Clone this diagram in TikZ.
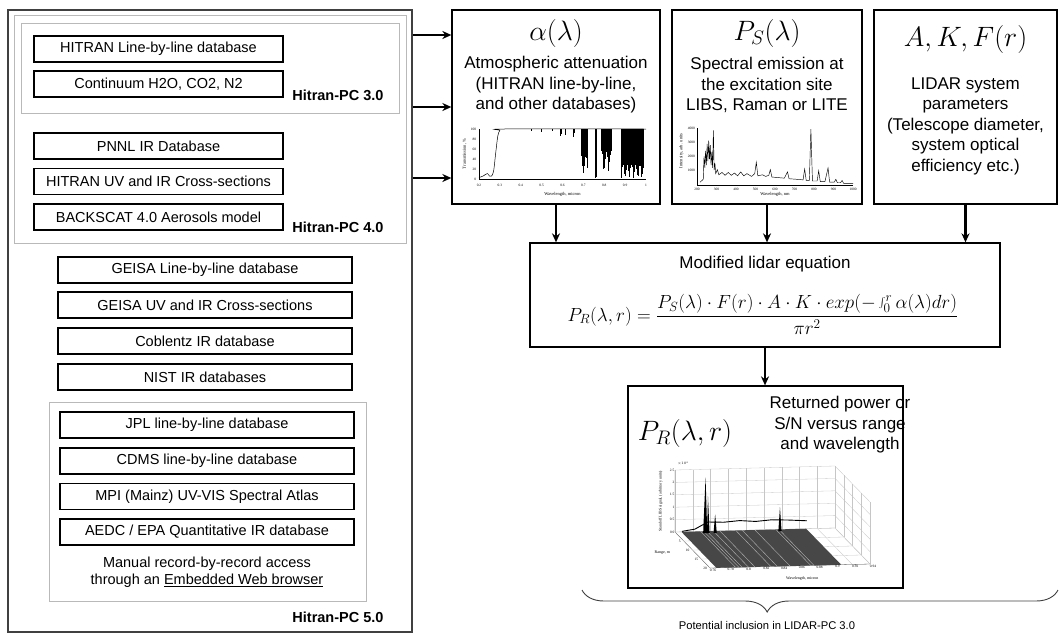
\RequirePackage{fix-cm}
\documentclass[tikz,border=0pt]{standalone}
\usepackage[no-math]{fontspec}
\setmainfont{Liberation Sans}
\newfontfamily\serifpetit{Liberation Serif}
\usetikzlibrary{arrows.meta,decorations.pathreplacing}

\begin{document}
\begin{tikzpicture}[x=1pt,y=-1pt]

% définition des styles
\tikzstyle{boite}=[draw,line width=1.6pt,minimum height=26pt,inner sep=0pt,font=\fontsize{14.5}{17}\selectfont]
\tikzstyle{cadre}=[draw=gray!55,line width=1pt,inner sep=0pt]
\tikzstyle{bloc}=[draw,line width=1.3pt,inner sep=0pt]
\tikzstyle{fleche}=[-{Stealth[length=9pt,width=8pt]},line width=2.2pt]
\tikzstyle{titre}=[font=\fontsize{28}{32}\selectfont]
\tikzstyle{texte}=[align=center,font=\fontsize{17}{20.5}\selectfont]
\tikzstyle{version}=[anchor=east,font=\fontsize{14.5}{17}\selectfont\bfseries]
\tikzstyle{graduation}=[font=\serifpetit\fontsize{3.5}{4}\selectfont,inner sep=0.5pt]
\tikzstyle{grille}=[gray!45,line width=0.3pt]

\useasboundingbox (0,0) rectangle (1059,635);

% les cadres de gauche
\node [draw=black!75,line width=1.5pt,minimum width=404,minimum height=622,inner sep=0pt] (panneau) at (210,321) {};
\node [cadre,minimum width=392,minimum height=228] (pc4) at (210,129) {};
\node [cadre,minimum width=378,minimum height=90] (pc3) at (210,68) {};
\node [cadre,minimum width=317,minimum height=199] (pc5) at (207.5,501.5) {};

% les bases de données
\node [boite,minimum width=249] (hitran) at (158.5,49) {HITRAN Line-by-line database};
\node [boite,minimum width=249] (continuum) at (158.5,84) {Continuum H2O, CO2, N2};
\node [boite,minimum width=249] (pnnl) at (158.5,146) {PNNL IR Database};
\node [boite,minimum width=249] (hitranuv) at (158.5,181.5) {HITRAN UV and IR Cross-sections};
\node [boite,minimum width=249] (backscat) at (158.5,217) {BACKSCAT 4.0 Aerosols model};
\node [boite,minimum width=294] (geisa) at (205,270) {GEISA Line-by-line database};
\node [boite,minimum width=294] (geisauv) at (205,305) {GEISA UV and IR Cross-sections};
\node [boite,minimum width=294] (coblentz) at (205,341) {Coblentz IR database};
\node [boite,minimum width=294] (nist) at (205,377) {NIST IR databases};
\node [boite,minimum width=294] (jpl) at (207,425) {JPL line-by-line database};
\node [boite,minimum width=294] (cdms) at (207,461) {CDMS line-by-line database};
\node [boite,minimum width=294] (mpi) at (207,496.5) {MPI (Mainz) UV-VIS Spectral Atlas};
\node [boite,minimum width=294] (aedc) at (207,532) {AEDC / EPA Quantitative IR database};
\node [align=center,font=\fontsize{14.5}{17.5}\selectfont] (manuel) at (207,572)
  {Manual record-by-record access\\through an \underline{Embedded Web browser}};

\node [version] (v3) at (387,95) {Hitran-PC 3.0};
\node [version] (v4) at (387,227) {Hitran-PC 4.0};
\node [version] (v5) at (387,617) {Hitran-PC 5.0};

% les blocs de droite
\node [bloc,minimum width=208,minimum height=194] (alpha) at (556,107) {};
\node [bloc,minimum width=190,minimum height=194] (emission) at (767,107) {};
\node [bloc,minimum width=183,minimum height=194] (systeme) at (965.5,107) {};
\node [bloc,minimum width=470,minimum height=104] (equation) at (765,295) {};
\node [bloc,minimum width=275,minimum height=202] (resultat) at (765.5,487) {};

\node [titre] (alphat) at (556,33) {$\alpha(\lambda)$};
\node [texte] (alphatx) at (556,85) {Atmospheric attenuation\\(HITRAN line-by-line,\\and other databases)};
\node [titre] (emissiont) at (767,33) {$P_S(\lambda)$};
\node [texte] (emissiontx) at (767,85) {Spectral emission at\\the excitation site\\LIBS, Raman or LITE};
\node [titre] (systemet) at (965.5,39) {$A,K,F(r)$};
\node [texte] (systemetx) at (965.5,126) {LIDAR system\\parameters\\(Telescope diameter,\\system optical\\efficiency etc.)};
\node [texte] (equationt) at (765,264) {Modified lidar equation};
\node [font=\fontsize{19}{23}\selectfont] (formule) at (763,314)
  {$\displaystyle P_R(\lambda,r)=\frac{P_S(\lambda)\cdot F(r)\cdot A\cdot K\cdot exp\bigl(-\int_0^r\alpha(\lambda)dr\bigr)}{\pi r^2}$};
\node [titre] (resultatt) at (685,433) {$P_R(\lambda,r)$};
\node [texte] (resultattx) at (840,425) {Returned power or\\S/N versus range\\and wavelength};

% les flèches
\coordinate (n1) at (0,35);
\coordinate (n2) at (0,107);
\coordinate (n3) at (0,178);
\draw[fleche] (panneau.east |- n1) -- (alpha.west |- n1);
\draw[fleche] (panneau.east |- n2) -- (alpha.west |- n2);
\draw[fleche] (panneau.east |- n3) -- (alpha.west |- n3);
\draw[fleche] (alpha) -- (alpha |- equation.north);
\draw[fleche] (emission) -- (emission |- equation.north);
\draw[fleche] (systeme) -- (systeme |- equation.north);
\draw[fleche] (equation) -- (equation |- resultat.north);

% accolade
\coordinate (acc1) at (1058,590);
\coordinate (acc2) at (582,590);
\draw[decorate,decoration={brace,amplitude=22pt,aspect=0.611},line width=0.9pt,black!75] (acc1) -- (acc2);
\node [font=\fontsize{11.2}{13}\selectfont] (lidar) at (767,625) {Potential inclusion in LIDAR-PC 3.0};

% spectre de transmission
\begin{scope}[shift={(479,179)},x=208.75pt,y=0.5pt]
\draw[line width=0.4pt] (0,100) -- (0,0) -- (0.8,0);
\foreach \p/\t [count=\i] in {0/0.2,0.1/0.3,0.2/0.4,0.3/0.5,0.4/0.6,0.5/0.7,0.6/0.8,0.7/0.9,0.8/1}
  \node[graduation] (ax\i) at (\p,-12) {\t};
\foreach \t [count=\i] in {0,20,40,60,80,100}
  \node[graduation,anchor=east] (ay\i) at (-0.01,\t) {\t};
\node[graduation,font=\serifpetit\fontsize{4.5}{5}\selectfont] (axt) at (0.4,-30) {Wavelength, micron};
\node[graduation,rotate=90,font=\serifpetit\fontsize{4.5}{5}\selectfont] (ayt) at (-0.068,50) {Transmission, \%};
\draw[line width=0.5pt] plot[smooth] coordinates {(0,3) (0.02,6) (0.04,11) (0.05,6) (0.06,6) (0.07,16) (0.08,52) (0.09,86) (0.1,97) (0.12,100) (0.8,100)};
\foreach \l/\t in {0.25/97,0.3/95,0.35/96,0.39/86,0.395/90,0.415/88,0.45/84,0.455/92}
  \draw[line width=0.6pt] (\l,100) -- (\l,\t);
\foreach \l in {0.488,0.491,...,0.522}
  \draw[line width=0.7pt] (\l,100) -- (\l,{12+35*abs(sin(\l*7919))});
\foreach \l in {0.555,0.558,...,0.566}
  \draw[line width=0.7pt] (\l,100) -- (\l,{1+4*abs(sin(\l*6151))});
\foreach \l in {0.588,0.591,...,0.636}
  \draw[line width=0.7pt] (\l,100) -- (\l,{12+45*abs(sin(\l*8123))});
\foreach \l in {0.68,0.683,...,0.786}
  \draw[line width=0.7pt] (\l,100) -- (\l,{1+28*abs(sin(\l*9001))});
\end{scope}

% spectre d'émission
\begin{scope}[shift={(697,185)},x=156pt,y=57pt]
\draw[line width=0.4pt] (0,1) -- (0,0) -- (1,0);
\foreach \p/\t [count=\i] in {0/200,0.125/300,0.25/400,0.375/500,0.5/600,0.625/700,0.75/800,0.875/900,1/1000}
  \node[graduation] (bx\i) at (\p,-0.08) {\t};
\foreach \p/\t [count=\i] in {0.25/1000,0.5/2000,0.75/3000,1/4000}
  \node[graduation,anchor=east] (by\i) at (-0.01,\p) {\t};
\node[graduation,font=\serifpetit\fontsize{4.5}{5}\selectfont] (bxt) at (0.5,-0.17) {Wavelength, nm};
\node[graduation,rotate=90,font=\serifpetit\fontsize{4.5}{5}\selectfont] (byt) at (-0.1,0.6) {Intensity, arb. units};
\draw[line width=0.45pt] plot coordinates {(0.02,0.05) (0.04,0.1) (0.045,0.5) (0.05,0.3) (0.055,0.6) (0.06,0.35) (0.065,0.72) (0.07,0.42) (0.075,0.78) (0.08,0.45) (0.085,0.7) (0.09,0.35) (0.095,0.58) (0.1,0.3) (0.105,0.96) (0.11,0.26) (0.115,0.38) (0.12,0.2) (0.13,0.27) (0.14,0.18) (0.16,0.22) (0.18,0.17) (0.2,0.22) (0.22,0.17) (0.24,0.21) (0.26,0.16) (0.28,0.23) (0.3,0.16) (0.32,0.2) (0.35,0.15) (0.37,0.2) (0.38,0.4) (0.39,0.16) (0.42,0.18) (0.44,0.15) (0.46,0.17) (0.47,0.27) (0.48,0.14) (0.52,0.13) (0.56,0.12) (0.58,0.23) (0.59,0.11) (0.64,0.1) (0.68,0.09) (0.69,0.28) (0.7,0.08) (0.72,0.08) (0.73,0.98) (0.74,0.07) (0.77,0.07) (0.78,0.25) (0.79,0.06) (0.82,0.06) (0.84,0.3) (0.85,0.05) (0.88,0.05) (0.89,0.1) (0.9,0.04) (0.92,0.04) (0.93,0.08) (0.94,0.03) (1,0.03)};
\end{scope}

% surface 3D
\begin{scope}[shift={(675,532)},x={(160pt,4pt)},y={(35pt,-36pt)},z={(0pt,62pt)}]
\foreach \i in {0,...,9} {
  \draw[grille] ({\i/9},0,0) -- ({\i/9},0,1);
  \draw[grille] ({\i/9},0,0) -- ({\i/9},1,0);
}
\foreach \j in {0,...,5}
  \draw[grille] (0,0,{\j/5}) -- (1,0,{\j/5}) -- (1,1,{\j/5});
\foreach \k in {0,...,4} {
  \draw[grille] (1,{\k/4},0) -- (1,{\k/4},1);
  \draw[grille] (0,{\k/4},0) -- (1,{\k/4},0);
}
\draw[black!60,line width=0.3pt] (0,0,1) -- (0,0,0) -- (0,1,0) -- (1,1,0);
\fill[black!72] (0.04,0,0) -- (0.82,0,0) -- (0.82,1,0) -- (0.04,1,0) -- cycle;
\foreach \a in {0.16,0.18,0.2,0.24,0.28,0.38,0.42,0.5,0.63,0.65}
  \draw[gray!60,line width=0.4pt] (\a,0,0) -- (\a,1,0);
\draw[line width=0.9pt] plot coordinates {(0.04,0.02,0.02) (0.12,0.02,0.05) (0.2,0.02,0.16) (0.3,0.02,0.15) (0.4,0.02,0.17) (0.5,0.02,0.15) (0.6,0.02,0.17) (0.7,0.02,0.16) (0.82,0.02,0.14)};
\fill (0.165,0.05,0) -- (0.18,0.05,0.9) -- (0.19,0.05,0.05) -- (0.195,0.05,0.6) -- (0.205,0.05,0) -- cycle;
\fill (0.23,0.05,0) -- (0.24,0.05,0.3) -- (0.25,0.05,0) -- cycle;
\fill (0.635,0.05,0) -- (0.645,0.05,0.39) -- (0.655,0.05,0) -- cycle;
\foreach \j/\t [count=\i] in {0/0,1/0.5,2/1,3/1.5,4/2,5/2.5}
  \node[graduation,anchor=east] (cz\i) at (0,0,{\j/5}) {\t};
\node[graduation] (czx) at (0.05,0,1.1) {$\times10^4$};
\foreach \k/\t [count=\i] in {0/0,1/5,2/10,3/15,4/20}
  \node[graduation,anchor=east] (cy\i) at (-0.015,{\k/4},0) {\t};
\foreach \t [count=\i] in {0.76,0.78,0.8,0.82,0.84,0.86,0.88,0.9,0.92,0.94}
  \node[graduation,anchor=north,xshift=3pt] (cx\i) at ({(\i-1)/9},1,0) {\t};
\node[graduation,font=\serifpetit\fontsize{4}{5}\selectfont] (cxt) at (0.5,1.35,0) {Wavelength, micron};
\node[graduation,font=\serifpetit\fontsize{4}{5}\selectfont] (cyt) at (-0.2,0.55,0) {Range, m};
\node[graduation,rotate=90,font=\serifpetit\fontsize{4}{5}\selectfont] (czt) at (-0.09,0,0.5) {Standoff LIBS signal, (arbitrary units)};
\end{scope}

\end{tikzpicture}
\end{document}
